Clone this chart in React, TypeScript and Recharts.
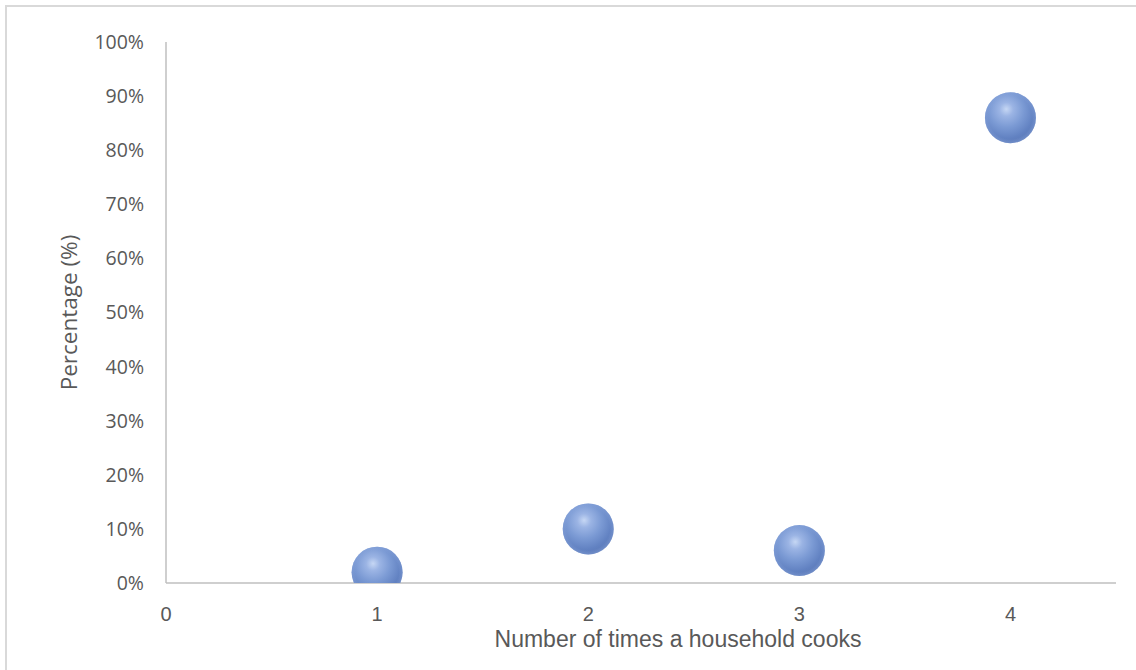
import React from 'react';
import { ScatterChart, Scatter, XAxis, YAxis } from 'recharts';

// Cooking frequency vs share of households
const cookTimes = [1, 2, 3, 4];
const householdPct = [0.02, 0.1, 0.06, 0.86];
const xTicks = [0, 1, 2, 3, 4];
const yTicks = [0, 0.1, 0.2, 0.3, 0.4, 0.5, 0.6, 0.7, 0.8, 0.9, 1];

const data = cookTimes.map((x, i) => ({ x, y: householdPct[i] }));

const SANS = '"Liberation Sans", Arial, sans-serif';
const OPEN = '"Open Sans", "Noto Sans", sans-serif';
const TEXT = '#595959';
const AXIS = '#bfbfbf';

// glossy ball marker
const Sphere = (props: any) => {
  const { cx, cy } = props;
  if (cx == null || cy == null) return null;
  return (
    <g>
      <circle cx={cx} cy={cy} r={25.5} fill="url(#sphereFill)" />
      <circle cx={cx} cy={cy} r={25.5} fill="url(#sphereShade)" />
    </g>
  );
};

const XTitle = ({ viewBox }: any) => (
  <text
    x={viewBox.x + viewBox.width / 2 + 37}
    y={viewBox.y + 64}
    textAnchor="middle"
    fontFamily={SANS}
    fontSize={23}
    fill={TEXT}
  >
    Number of times a household cooks
  </text>
);

const YTitle = ({ viewBox }: any) => {
  const x = 77;
  const y = viewBox.y + viewBox.height / 2;
  return (
    <text
      x={x}
      y={y}
      transform={`rotate(-90, ${x}, ${y})`}
      textAnchor="middle"
      fontFamily={OPEN}
      fontSize={22.5}
      fill={TEXT}
    >
      Percentage (%)
    </text>
  );
};

export default function App() {
  return (
    <div
      style={{
        position: 'absolute',
        left: 0,
        top: 0,
        width: 1136,
        height: 670,
        overflow: 'hidden',
        background: '#fff',
      }}
    >
      <div
        style={{
          position: 'absolute',
          left: 5,
          top: 5,
          width: 1200,
          height: 720,
          border: '2px solid #d9d9d9',
        }}
      />
      <svg width={0} height={0} style={{ position: 'absolute' }}>
        <defs>
          <radialGradient id="sphereFill" cx="42%" cy="36%" r="68%" fx="42%" fy="33%">
            <stop offset="0%" stopColor="#c6d7f4" />
            <stop offset="20%" stopColor="#9bb4e4" />
            <stop offset="50%" stopColor="#7b9ad4" />
            <stop offset="80%" stopColor="#6282c2" />
            <stop offset="100%" stopColor="#5a78b6" />
          </radialGradient>
          <radialGradient id="sphereShade" cx="50%" cy="50%" r="50%">
            <stop offset="84%" stopColor="#8aa6dc" stopOpacity={0} />
            <stop offset="100%" stopColor="#8aa6dc" stopOpacity={0.45} />
          </radialGradient>
        </defs>
      </svg>
      <div style={{ position: 'absolute', left: 0, top: 0 }}>
        <ScatterChart
          width={1136}
          height={670}
          margin={{ top: 42, right: 20, bottom: 0, left: 0 }}
        >
          <XAxis
            type="number"
            dataKey="x"
            domain={[0, 4.5]}
            ticks={xTicks}
            allowDataOverflow
            height={87}
            axisLine={{ stroke: AXIS, strokeWidth: 1.5 }}
            tickLine={false}
            tickSize={0}
            tickMargin={24}
            tick={{ fontFamily: SANS, fontSize: 20, fill: TEXT }}
            label={<XTitle />}
          />
          <YAxis
            type="number"
            dataKey="y"
            domain={[0, 1]}
            ticks={yTicks}
            allowDataOverflow
            width={166}
            axisLine={{ stroke: AXIS, strokeWidth: 1.5 }}
            tickLine={false}
            tickSize={0}
            tickMargin={22}
            tickFormatter={(v: number) => `${Math.round(v * 100)}%`}
            tick={{ fontFamily: OPEN, fontSize: 19.5, fill: TEXT }}
            label={<YTitle />}
          />
          <Scatter data={data} shape={<Sphere />} isAnimationActive={false} />
        </ScatterChart>
      </div>
    </div>
  );
}
